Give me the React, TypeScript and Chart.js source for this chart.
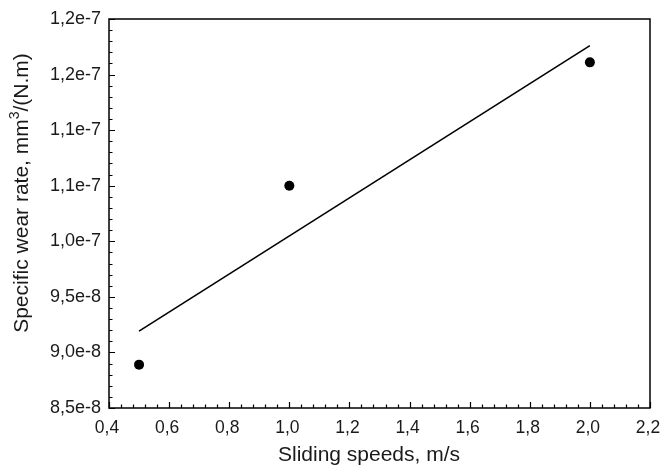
import React, { useEffect, useRef } from "react";
import { Chart, registerables } from "chart.js";

Chart.register(...registerables);

// Data
const speeds = [0.5, 1.0, 2.0];
const wearRates = [8.89e-8, 1.05e-7, 1.161e-7];

// Axis ticks
const xTickValues = [0.4, 0.6, 0.8, 1.0, 1.2, 1.4, 1.6, 1.8, 2.0, 2.2];
const xTickLabels = ["0,4", "0,6", "0,8", "1,0", "1,2", "1,4", "1,6", "1,8", "2,0", "2,2"];
const yTickValues = [8.5e-8, 9.0e-8, 9.5e-8, 1.0e-7, 1.05e-7, 1.1e-7, 1.15e-7, 1.2e-7];
const yTickLabels = ["8,5e-8", "9,0e-8", "9,5e-8", "1,0e-7", "1,1e-7", "1,1e-7", "1,2e-7", "1,2e-7"];

const xTitle = "Sliding speeds, m/s";
// y title pieces: normal text, superscript, normal text
const yTitleParts = ["Specific wear rate, mm", "3", "/(N.m)"];

// Linear least-squares fit through the measured points
function linearFit(xs: number[], ys: number[]) {
  const n = xs.length;
  const mx = xs.reduce((a, b) => a + b, 0) / n;
  const my = ys.reduce((a, b) => a + b, 0) / n;
  let sxy = 0;
  let sxx = 0;
  for (let i = 0; i < n; i++) {
    sxy += (xs[i] - mx) * (ys[i] - my);
    sxx += (xs[i] - mx) * (xs[i] - mx);
  }
  const slope = sxy / sxx;
  return (x: number) => my + slope * (x - mx);
}

const FONT = "'Liberation Sans', Arial, sans-serif";
const TEXT_COLOR = "#1a1a1a";

const framePlugin = {
  id: "frameTicks",
  afterDraw(chart: any) {
    const { ctx, chartArea } = chart;
    const { left, right, top, bottom } = chartArea;
    const xs = chart.scales.x;
    const ys = chart.scales.y;
    ctx.save();
    ctx.strokeStyle = "#000";
    ctx.lineWidth = 1.5;
    ctx.strokeRect(left, top, right - left, bottom - top);
    ctx.lineWidth = 1.2;
    ctx.beginPath();
    const major = 6;
    const minor = 3.5;
    for (let i = 0; i < xTickValues.length; i++) {
      const v = xTickValues[i];
      const px = Math.round(xs.getPixelForValue(v)) + 0.5;
      ctx.moveTo(px, bottom);
      ctx.lineTo(px, bottom - major);
      if (i < xTickValues.length - 1) {
        const step = (xTickValues[i + 1] - v) / 5;
        for (let k = 1; k < 5; k++) {
          const mp = Math.round(xs.getPixelForValue(v + step * k)) + 0.5;
          ctx.moveTo(mp, bottom);
          ctx.lineTo(mp, bottom - minor);
        }
      }
    }
    for (let i = 0; i < yTickValues.length; i++) {
      const v = yTickValues[i];
      const py = Math.round(ys.getPixelForValue(v)) + 0.5;
      ctx.moveTo(left, py);
      ctx.lineTo(left + major, py);
      if (i < yTickValues.length - 1) {
        const step = (yTickValues[i + 1] - v) / 5;
        for (let k = 1; k < 5; k++) {
          const mp = Math.round(ys.getPixelForValue(v + step * k)) + 0.5;
          ctx.moveTo(left, mp);
          ctx.lineTo(left + minor, mp);
        }
      }
    }
    ctx.stroke();

    // Axis titles
    ctx.fillStyle = TEXT_COLOR;
    ctx.textBaseline = "alphabetic";
    ctx.font = `21px ${FONT}`;
    ctx.textAlign = "center";
    ctx.fillText(xTitle, 369, 461);

    // y title, rotated
    const mainFont = `21px ${FONT}`;
    const supFont = `14px ${FONT}`;
    ctx.font = mainFont;
    const w0 = ctx.measureText(yTitleParts[0]).width;
    const w2 = ctx.measureText(yTitleParts[2]).width;
    ctx.font = supFont;
    const w1 = ctx.measureText(yTitleParts[1]).width;
    const total = w0 + w1 + w2;
    ctx.translate(28, 193);
    ctx.rotate(-Math.PI / 2);
    ctx.textAlign = "left";
    let cx = -total / 2;
    ctx.font = mainFont;
    ctx.fillText(yTitleParts[0], cx, 0);
    cx += w0;
    ctx.font = supFont;
    ctx.fillText(yTitleParts[1], cx, -9);
    cx += w1;
    ctx.font = mainFont;
    ctx.fillText(yTitleParts[2], cx, 0);
    ctx.restore();
  },
};

export default function App() {
  const canvasRef = useRef<HTMLCanvasElement | null>(null);

  useEffect(() => {
    const canvas = canvasRef.current;
    if (!canvas) return;
    const fit = linearFit(speeds, wearRates);
    const xFirst = speeds[0];
    const xLast = speeds[speeds.length - 1];

    const chart = new Chart(canvas, {
      type: "scatter",
      data: {
        datasets: [
          {
            type: "line",
            label: "fit",
            data: [
              { x: xFirst, y: fit(xFirst) },
              { x: xLast, y: fit(xLast) },
            ],
            borderColor: "#000",
            borderWidth: 1.6,
            pointRadius: 0,
            fill: false,
          },
          {
            type: "scatter",
            label: "data",
            data: speeds.map((x, i) => ({ x, y: wearRates[i] })),
            backgroundColor: "#000",
            borderColor: "#000",
            pointRadius: 5,
            pointBorderWidth: 0,
          },
        ],
      } as any,
      options: {
        responsive: false,
        animation: false,
        layout: { padding: { left: 0, top: 19, right: 12, bottom: 0 } },
        plugins: {
          legend: { display: false },
          tooltip: { enabled: false },
        },
        scales: {
          x: {
            type: "linear",
            min: 0.4,
            max: 2.2,
            grid: { display: false, drawTicks: false },
            border: { display: false },
            afterBuildTicks: (scale: any) => {
              scale.ticks = xTickValues.map((v) => ({ value: v }));
            },
            afterFit: (scale: any) => {
              scale.height = 58;
              scale.paddingLeft = 0;
              scale.paddingRight = 0;
            },
            ticks: {
              color: TEXT_COLOR,
              font: { family: FONT, size: 17.5 },
              padding: 10,
              labelOffset: -2,
              maxRotation: 0,
              autoSkip: false,
              callback: (_v: any, i: number) => xTickLabels[i],
            },
            title: { display: false },
          },
          y: {
            type: "linear",
            min: 8.5e-8,
            max: 1.2e-7,
            grid: { display: false, drawTicks: false },
            border: { display: false },
            afterBuildTicks: (scale: any) => {
              scale.ticks = yTickValues.map((v) => ({ value: v }));
            },
            afterFit: (scale: any) => {
              scale.width = 109;
              scale.paddingTop = 0;
              scale.paddingBottom = 0;
            },
            ticks: {
              color: TEXT_COLOR,
              font: { family: FONT, size: 18 },
              padding: 8,
              autoSkip: false,
              callback: (_v: any, i: number) => yTickLabels[i],
            },
            title: { display: false },
          },
        },
      } as any,
      plugins: [framePlugin],
    });
    return () => chart.destroy();
  }, []);

  return (
    <div style={{ position: "fixed", left: 0, top: 0, width: 662, height: 466, background: "#fff" }}>
      <canvas ref={canvasRef} width={662} height={466} style={{ width: 662, height: 466, display: "block" }} />
    </div>
  );
}
